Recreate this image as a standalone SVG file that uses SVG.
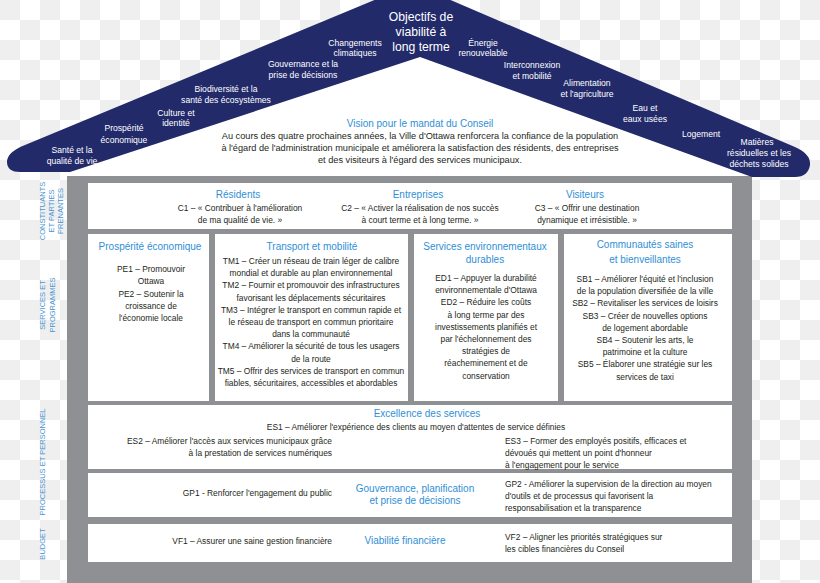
<svg xmlns="http://www.w3.org/2000/svg" width="820" height="583" viewBox="0 0 820 583">
<defs>
<pattern id="chk" width="40" height="40" patternUnits="userSpaceOnUse">
<rect width="40" height="40" fill="#ffffff"/>
<rect width="20" height="20" fill="#efefef"/>
<rect x="20" y="20" width="20" height="20" fill="#efefef"/>
</pattern>
<style>
text{font-family:"Liberation Sans",Arial,sans-serif;}
.rf{fill:#ffffff;font-size:8.6px;text-anchor:middle;}
.ttl{fill:#ffffff;font-size:12.2px;text-anchor:middle;}
.hd{fill:#2f8fd6;font-size:10px;text-anchor:middle;}
.bd{fill:#231f20;font-size:8.4px;text-anchor:middle;}
.bl{fill:#231f20;font-size:8.4px;text-anchor:start;}
.br{fill:#231f20;font-size:8.4px;text-anchor:end;}
.vs{fill:#231f20;font-size:9.2px;text-anchor:middle;}
.sd{fill:#4a93d2;font-size:7.5px;text-anchor:middle;}
.box{fill:#ffffff;}
</style>
</defs>
<rect width="820" height="583" fill="url(#chk)"/>

<g id="house">
<polygon points="420,57 70,172 70,176 752,176 752,177 420,57" fill="#ffffff"/>
<rect x="67" y="176" width="685" height="407" fill="#8f9094"/>
</g>

<g id="roof">
<path d="M413,-16 L795,147 Q811,154 810,165 Q808,177 795,177 L752,177 L420,57 L70,172 L20,172 Q7,172 7,162 Q7,152 25,145 Z" fill="#222a6a"/>
<text class="ttl"><tspan x="421" y="21">Objectifs de</tspan><tspan x="421" y="36">viabilité à</tspan><tspan x="421" y="51">long terme</tspan></text>
<text class="rf"><tspan x="72" y="153">Santé et la</tspan><tspan x="72" y="163.5">qualité de vie</tspan></text>
<text class="rf"><tspan x="124" y="131">Prospérité</tspan><tspan x="124" y="142.5">économique</tspan></text>
<text class="rf"><tspan x="176" y="115.5">Culture et</tspan><tspan x="176" y="126">identité</tspan></text>
<text class="rf"><tspan x="226" y="92">Biodiversité et la</tspan><tspan x="226" y="103">santé des écosystèmes</tspan></text>
<text class="rf"><tspan x="303" y="67">Gouvernance et la</tspan><tspan x="303" y="78">prise de décisions</tspan></text>
<text class="rf"><tspan x="355" y="45.5">Changements</tspan><tspan x="355" y="56">climatiques</tspan></text>
<text class="rf"><tspan x="483" y="45.5">Énergie</tspan><tspan x="483" y="56">renouvelable</tspan></text>
<text class="rf"><tspan x="532" y="68">Interconnexion</tspan><tspan x="532" y="79">et mobilité</tspan></text>
<text class="rf"><tspan x="587" y="86">Alimentation</tspan><tspan x="587" y="96.5">et l'agriculture</tspan></text>
<text class="rf"><tspan x="645" y="111">Eau et</tspan><tspan x="645" y="122">eaux usées</tspan></text>
<text class="rf"><tspan x="701" y="137">Logement</tspan></text>
<text class="rf"><tspan x="757" y="145">Matières</tspan><tspan x="759" y="156">résiduelles et les</tspan><tspan x="759" y="166.5">déchets solides</tspan></text>
</g>

<g id="vision">
<text class="hd" x="420" y="126.5">Vision pour le mandat du Conseil</text>
<text class="vs"><tspan x="420" y="138.5">Au cours des quatre prochaines années, la Ville d'Ottawa renforcera la confiance de la population</tspan><tspan x="420" y="151">à l'égard de l'administration municipale et améliorera la satisfaction des résidents, des entreprises</tspan><tspan x="420" y="163">et des visiteurs à l'égard des services municipaux.</tspan></text>
</g>

<g id="side-labels">
<text class="sd" transform="translate(45,211) rotate(-90)">CONSTITUANTS</text>
<text class="sd" transform="translate(54,211) rotate(-90)">ET PARTIES</text>
<text class="sd" transform="translate(63,211) rotate(-90)">PRENANTES</text>
<text class="sd" transform="translate(45,305) rotate(-90)">SERVICES ET</text>
<text class="sd" transform="translate(54.5,305) rotate(-90)">PROGRAMMES</text>
<text class="sd" transform="translate(44.5,462) rotate(-90)">PROCESSUS ET PERSONNEL</text>
<text class="sd" transform="translate(44.5,544) rotate(-90)">BUDGET</text>
</g>

<g id="constituants">
<rect class="box" x="88" y="183" width="644" height="46"/>
<text class="hd" x="238" y="197.5">Résidents</text>
<text class="bd"><tspan x="240" y="211">C1 – « Contribuer à l'amélioration</tspan><tspan x="240" y="223">de ma qualité de vie. »</tspan></text>
<text class="hd" x="418" y="197.5">Entreprises</text>
<text class="bd"><tspan x="420" y="211">C2 – « Activer la réalisation de nos succès</tspan><tspan x="420" y="223">à court terme et à long terme. »</tspan></text>
<text class="hd" x="585" y="197.5">Visiteurs</text>
<text class="bd"><tspan x="587" y="211">C3 – « Offrir une destination</tspan><tspan x="587" y="223">dynamique et irrésistible. »</tspan></text>
</g>

<g id="prosperite">
<rect class="box" x="88" y="234" width="121" height="167"/>
<text class="hd" x="150" y="250">Prospérité économique</text>
<text class="bd"><tspan x="151" y="271.5">PE1 – Promouvoir</tspan><tspan x="151" y="284">Ottawa</tspan><tspan x="151" y="296.5">PE2 – Soutenir la</tspan><tspan x="151" y="308.5">croissance de</tspan><tspan x="151" y="321">l'économie locale</tspan></text>
</g>

<g id="transport">
<rect class="box" x="215" y="234" width="193" height="167"/>
<text class="hd" x="312" y="250">Transport et mobilité</text>
<text class="bd"><tspan x="311" y="264">TM1 – Créer un réseau de train léger de calibre</tspan><tspan x="311" y="276.2">mondial et durable au plan environnemental</tspan><tspan x="311" y="288.4">TM2 – Fournir et promouvoir des infrastructures</tspan><tspan x="311" y="300.6">favorisant les déplacements sécuritaires</tspan><tspan x="311" y="312.8">TM3 – Intégrer le transport en commun rapide et</tspan><tspan x="311" y="325">le réseau de transport en commun prioritaire</tspan><tspan x="311" y="337.2">dans la communauté</tspan><tspan x="311" y="349.4">TM4 – Améliorer la sécurité de tous les usagers</tspan><tspan x="311" y="361.6">de la route</tspan><tspan x="311" y="373.8">TM5 – Offrir des services de transport en commun</tspan><tspan x="311" y="386">fiables, sécuritaires, accessibles et abordables</tspan></text>
</g>

<g id="environnement">
<rect class="box" x="414" y="234" width="144" height="167"/>
<text class="hd"><tspan x="485" y="250">Services environnementaux</tspan><tspan x="485" y="262.5">durables</tspan></text>
<text class="bd"><tspan x="486" y="281">ED1 – Appuyer la durabilité</tspan><tspan x="486" y="293.2">environnementale d'Ottawa</tspan><tspan x="486" y="305.4">ED2 – Réduire les coûts</tspan><tspan x="486" y="317.6">à long terme par des</tspan><tspan x="486" y="329.8">investissements planifiés et</tspan><tspan x="486" y="342">par l'échelonnement des</tspan><tspan x="486" y="354.2">stratégies de</tspan><tspan x="486" y="366.4">réacheminement et de</tspan><tspan x="486" y="378.6">conservation</tspan></text>
</g>

<g id="communautes">
<rect class="box" x="564" y="234" width="168" height="167"/>
<text class="hd"><tspan x="645" y="247.5">Communautés saines</tspan><tspan x="645" y="263">et bienveillantes</tspan></text>
<text class="bd"><tspan x="645" y="282">SB1 – Améliorer l'équité et l'inclusion</tspan><tspan x="645" y="294.2">de la population diversifiée de la ville</tspan><tspan x="645" y="306.4">SB2 – Revitaliser les services de loisirs</tspan><tspan x="645" y="318.6">SB3 – Créer de nouvelles options</tspan><tspan x="645" y="330.8">de logement abordable</tspan><tspan x="645" y="343">SB4 – Soutenir les arts, le</tspan><tspan x="645" y="355.2">patrimoine et la culture</tspan><tspan x="645" y="367.4">SB5 – Élaborer une stratégie sur les</tspan><tspan x="645" y="379.6">services de taxi</tspan></text>
</g>

<g id="excellence">
<rect class="box" x="88" y="405" width="644" height="64"/>
<text class="hd" x="427" y="417">Excellence des services</text>
<text class="bd" x="416" y="429.5">ES1 – Améliorer l'expérience des clients au moyen d'attentes de service définies</text>
<text class="br"><tspan x="332" y="444">ES2 – Améliorer l'accès aux services municipaux grâce</tspan><tspan x="332" y="456">à la prestation de services numériques</tspan></text>
<text class="bl"><tspan x="505" y="444">ES3 – Former des employés positifs, efficaces et</tspan><tspan x="505" y="456">dévoués qui mettent un point d'honneur</tspan><tspan x="505" y="467.5">à l'engagement pour le service</tspan></text>
</g>

<g id="gouvernance">
<rect class="box" x="88" y="473" width="644" height="44"/>
<text class="br" x="332" y="496">GP1 - Renforcer l'engagement du public</text>
<text class="hd"><tspan x="415" y="492">Gouvernance, planification</tspan><tspan x="415" y="504">et prise de décisions</tspan></text>
<text class="bl"><tspan x="505" y="487">GP2 - Améliorer la supervision de la direction au moyen</tspan><tspan x="505" y="499">d'outils et de processus qui favorisent la</tspan><tspan x="505" y="511">responsabilisation et la transparence</tspan></text>
</g>

<g id="viabilite">
<rect class="box" x="88" y="524" width="644" height="38"/>
<text class="br" x="332" y="544">VF1 – Assurer une saine gestion financière</text>
<text class="hd" x="405" y="544">Viabilité financière</text>
<text class="bl"><tspan x="505" y="540">VF2 – Aligner les priorités stratégiques sur</tspan><tspan x="505" y="552">les cibles financières du Conseil</tspan></text>
</g>

<g id="connectors"/>
</svg>
